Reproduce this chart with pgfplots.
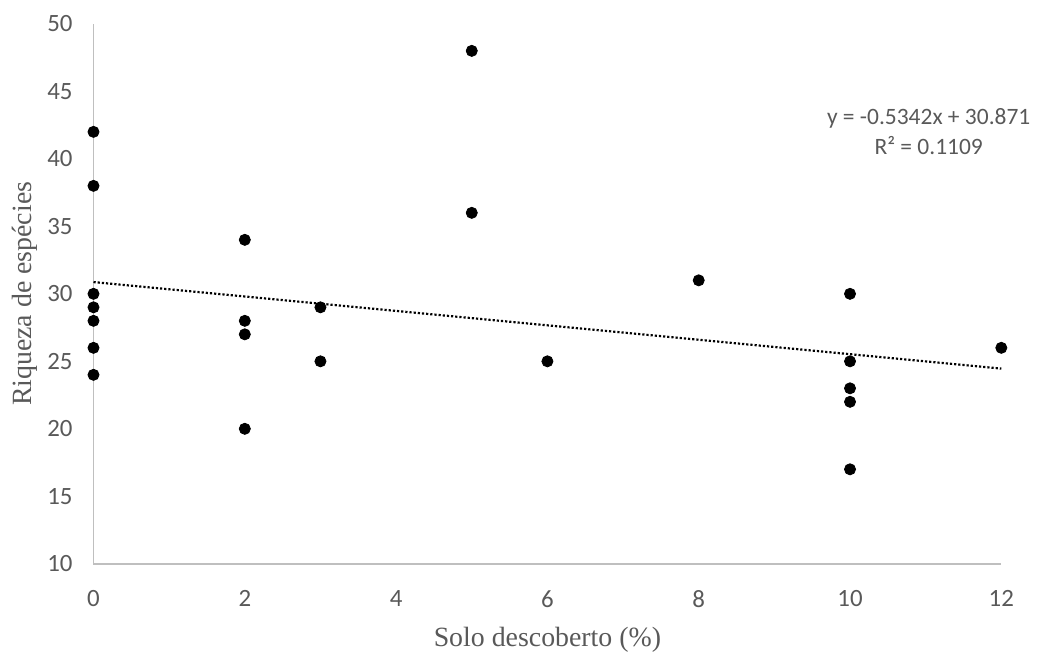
\documentclass[border=0pt]{standalone}
\usepackage{pgfplots}
\pgfplotsset{compat=1.18}
\usepackage{fontspec}
\setmainfont{Liberation Serif}
\newfontfamily\calib{Carlito}
\definecolor{txtgray}{HTML}{595959}
\definecolor{axgray}{HTML}{BFBFBF}
\begin{document}
\begin{tikzpicture}
\begin{axis}[
  scale only axis,
  width=456.5pt, height=271.5pt,
  xmin=0, xmax=12, ymin=10, ymax=50,
  xtick={0,2,...,12}, ytick={10,15,...,50},
  axis lines=left,
  axis line style={axgray, line width=0.9pt, -},
  major tick length=0pt,
  tick label style={font=\calib\fontsize{12.5}{14}\selectfont, text=txtgray},
  /pgf/number format/assume math mode=true,
  xticklabel style={yshift=-10pt},
  yticklabel style={xshift=-7pt},
  xlabel={Solo descoberto (\%)},
  ylabel={Riqueza de espécies},
  label style={font=\fontsize{14}{16}\selectfont, text=txtgray},
  xlabel style={yshift=-3pt},
  ylabel style={yshift=-2pt},
  clip=false,
]
\addplot[only marks, mark=*, mark size=2.8pt, black] coordinates {
 (0,42) (0,38) (0,30) (0,29) (0,28) (0,26) (0,24)
 (2,34) (2,28) (2,27) (2,20)
 (3,29) (3,25)
 (5,48) (5,36)
 (6,25)
 (8,31)
 (10,30) (10,25) (10,23) (10,22) (10,17)
 (12,26)
};
\addplot[black, densely dotted, line width=1.1pt] coordinates {(0,30.871) (12,24.4606)};
\node[align=center, text=txtgray, font=\calib\fontsize{11.8}{15}\selectfont] at (axis cs:11.04,42.0) {y = -0.5342x + 30.871\\R² = 0.1109};
\path (rel axis cs:-0.103,-0.1492) rectangle (rel axis cs:1.0329,1.0442);
\end{axis}
\end{tikzpicture}
\end{document}
